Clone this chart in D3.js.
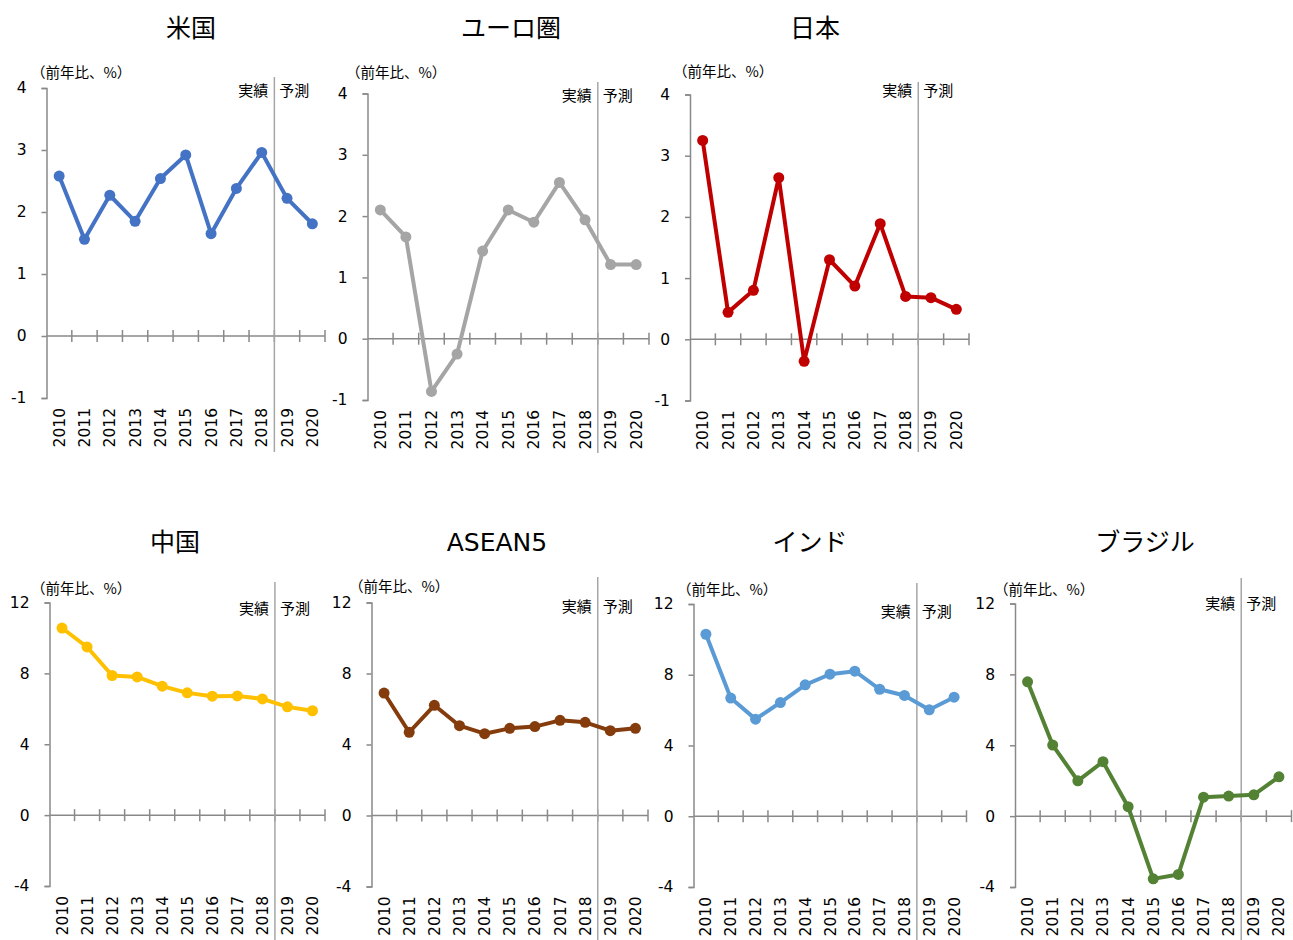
<!DOCTYPE html>
<html>
<head>
<meta charset="utf-8">
<script src="https://cdn.jsdelivr.net/npm/d3@7"></script>
<style>
  html, body { margin: 0; padding: 0; background: #fff; }
  svg { display: block; }
  .num { font-family: "DejaVu Sans", Verdana, sans-serif; }
  .jp { font-family: "Noto Sans CJK JP", "Noto Sans", sans-serif; }
</style>
</head>
<body>
<svg id="chart" width="1293" height="940"></svg>
<script>
// ---------------- data ----------------
const years = ["2010","2011","2012","2013","2014","2015","2016","2017","2018","2019","2020"];
const forecastStart = "2019";
const titles = ["米国", "ユーロ圏", "日本", "中国", "ASEAN5", "インド", "ブラジル"];
const usValues     = [2.58, 1.56, 2.27, 1.85, 2.54, 2.92, 1.65, 2.38, 2.96, 2.22, 1.81];
const euroValues   = [2.10, 1.66, -0.86, -0.25, 1.43, 2.10, 1.90, 2.55, 1.94, 1.21, 1.21];
const japanValues  = [3.25, 0.44, 0.80, 2.64, -0.36, 1.30, 0.87, 1.89, 0.70, 0.68, 0.49];
const chinaValues  = [10.56, 9.49, 7.88, 7.80, 7.28, 6.90, 6.71, 6.73, 6.56, 6.11, 5.89];
const aseanValues  = [6.90, 4.69, 6.21, 5.06, 4.61, 4.91, 5.01, 5.36, 5.25, 4.78, 4.91];
const indiaValues  = [10.29, 6.68, 5.49, 6.43, 7.43, 8.03, 8.20, 7.18, 6.83, 6.02, 6.73];
const brazilValues = [7.58, 4.01, 1.99, 3.07, 0.53, -3.54, -3.29, 1.07, 1.13, 1.20, 2.22];
const topRowTicks = [-1, 0, 1, 2, 3, 4];
const bottomRowTicks = [-4, 0, 4, 8, 12];
const unitLabel = "（前年比、%）";
const actualLabel = "実績";
const forecastLabel = "予測";

const seriesList = [usValues, euroValues, japanValues, chinaValues, aseanValues, indiaValues, brazilValues];
const colors = ["#4472C4", "#A5A5A5", "#C00000", "#FFC000", "#843C0C", "#5B9BD5", "#548235"];

// ---------------- layout ----------------
const layout = [
  {x0: 46.5,  x1: 325,   yTop: 88,    yBot: 398,   ticks: topRowTicks,    titleX: 191,  titleY: 37,  unitX: 31,  unitY: 78,  tagY: 96,  divTop: 77,  divBot: 452},
  {x0: 367.5, x1: 649,   yTop: 93.5,  yBot: 400,   ticks: topRowTicks,    titleX: 511,  titleY: 37,  unitX: 346, unitY: 78,  tagY: 101, divTop: 82,  divBot: 453},
  {x0: 690,   x1: 969,   yTop: 94.5,  yBot: 400.5, ticks: topRowTicks,    titleX: 815,  titleY: 37,  unitX: 673, unitY: 77,  tagY: 96,  divTop: 82,  divBot: 452},
  {x0: 49.5,  x1: 325,   yTop: 602.5, yBot: 886,   ticks: bottomRowTicks, titleX: 175,  titleY: 551, unitX: 31,  unitY: 594, tagY: 614, divTop: 582, divBot: 940},
  {x0: 371.5, x1: 648,   yTop: 602.5, yBot: 886.5, ticks: bottomRowTicks, titleX: 497,  titleY: 551, unitX: 349, unitY: 592, tagY: 612, divTop: 577, divBot: 940},
  {x0: 693.5, x1: 966.5, yTop: 604,   yBot: 887,   ticks: bottomRowTicks, titleX: 810,  titleY: 551, unitX: 677, unitY: 595, tagY: 617, divTop: 583, divBot: 940},
  {x0: 1015,  x1: 1291.5,yTop: 603.5, yBot: 887,   ticks: bottomRowTicks, titleX: 1145, titleY: 551, unitX: 994, unitY: 595, tagY: 609, divTop: 578, divBot: 940}
];

const axisColor = "#898989";
const svg = d3.select("#chart");

layout.forEach((L, i) => {
  const values = seriesList[i];
  const data = years.map((y, k) => ({year: y, value: values[k]}));
  const x = d3.scaleBand().domain(years).range([L.x0, L.x1]).paddingInner(0).paddingOuter(0);
  const ext = d3.extent(L.ticks);
  const y = d3.scaleLinear().domain([ext[0], ext[1]]).range([L.yBot, L.yTop]);
  const g = svg.append("g");
  const bw = x.bandwidth();

  // title
  g.append("text").attr("class", /[A-Za-z]/.test(titles[i]) ? "num" : "jp")
    .attr("x", L.titleX).attr("y", L.titleY)
    .attr("text-anchor", "middle").attr("font-size", 25).attr("fill", "#000")
    .text(titles[i]);

  // unit label
  g.append("text").attr("class", "jp")
    .attr("x", L.unitX).attr("y", L.unitY)
    .attr("font-size", 14.5).attr("fill", "#000")
    .text(unitLabel);

  // y axis
  const yAxis = d3.axisLeft(y).tickValues(L.ticks).tickSize(5).tickPadding(15).tickFormat(d => String(d));
  const ya = g.append("g").attr("transform", `translate(${L.x0},0)`).call(yAxis);
  ya.select(".domain").attr("stroke", axisColor).attr("stroke-width", 1.5);
  ya.selectAll(".tick line").attr("stroke", axisColor).attr("stroke-width", 1.5);
  ya.selectAll(".tick text").attr("class", "num").attr("font-size", 15.5).attr("fill", "#000");

  // zero line with crossing ticks
  const y0 = y(0);
  g.append("line").attr("x1", L.x0).attr("x2", L.x1).attr("y1", y0).attr("y2", y0)
    .attr("stroke", axisColor).attr("stroke-width", 1.5);
  g.selectAll("line.xt").data(years).enter().append("line")
    .attr("x1", d => x(d) + bw).attr("x2", d => x(d) + bw)
    .attr("y1", y0 - 6).attr("y2", y0 + 6)
    .attr("stroke", axisColor).attr("stroke-width", 1.5);

  // year labels
  g.selectAll("text.yr").data(years).enter().append("text")
    .attr("class", "num")
    .attr("transform", d => `translate(${x(d) + bw / 2 + 5.5},${L.yBot + 10}) rotate(-90)`)
    .attr("text-anchor", "end").attr("font-size", 15.5).attr("fill", "#000")
    .text(d => d);

  // divider
  const xd = x(forecastStart);
  g.append("line").attr("x1", xd).attr("x2", xd).attr("y1", L.divTop).attr("y2", L.divBot)
    .attr("stroke", "#A6A6A6").attr("stroke-width", 1.5);
  g.append("text").attr("class", "jp").attr("x", xd - 6).attr("y", L.tagY)
    .attr("text-anchor", "end").attr("font-size", 15).attr("fill", "#000").text(actualLabel);
  g.append("text").attr("class", "jp").attr("x", xd + 5).attr("y", L.tagY)
    .attr("text-anchor", "start").attr("font-size", 15).attr("fill", "#000").text(forecastLabel);

  // line + markers
  const line = d3.line().x(d => x(d.year) + bw / 2).y(d => y(d.value));
  g.append("path").datum(data).attr("d", line)
    .attr("fill", "none").attr("stroke", colors[i]).attr("stroke-width", 4)
    .attr("stroke-linejoin", "round");
  g.selectAll("circle").data(data).enter().append("circle")
    .attr("cx", d => x(d.year) + bw / 2).attr("cy", d => y(d.value))
    .attr("r", 5.5).attr("fill", colors[i]);
});
</script>
</body>
</html>
